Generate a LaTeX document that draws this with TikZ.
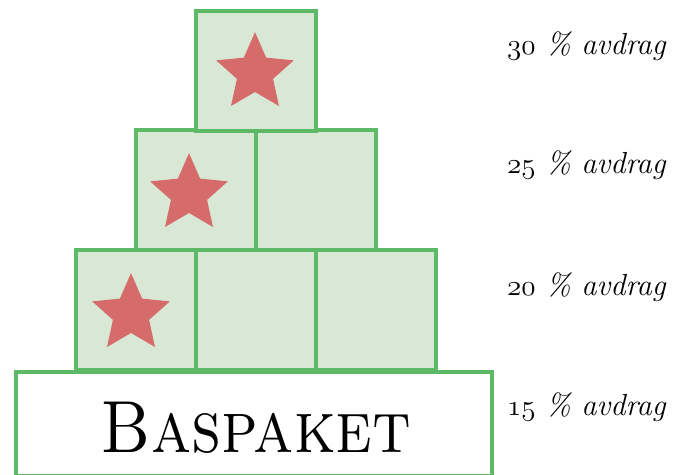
\documentclass[tikz,border=0pt]{standalone}
\usepackage{fontspec}
\usetikzlibrary{shapes.geometric}
\definecolor{rutgron}{RGB}{92,186,102}
\definecolor{rutfyll}{RGB}{216,232,212}
\definecolor{stjarna}{RGB}{213,107,107}
\newcommand\gamla[1]{{\fontencoding{OML}\fontfamily{lmm}\fontseries{m}\fontshape{it}\selectfont #1}}
\tikzset{
  ruta/.style={draw=rutgron, fill=rutfyll, line width=3.4pt, minimum size=36mm, inner sep=0pt},
  stjrn/.style={star, star points=5, star point ratio=2.15, fill=stjarna, minimum size=24.5mm, inner sep=0pt},
  niva/.style={anchor=base west, inner sep=0pt, font=\fontsize{26}{30}\selectfont\itshape}
}
\begin{document}
\begin{tikzpicture}[x=0.3mm, y=-0.3mm]
    % ram
    \useasboundingbox (0,0) rectangle (673,475);
    % baspaketet
    \node[draw=rutgron, fill=white, line width=3.4pt, minimum width=142.8mm, minimum height=31.2mm, inner sep=0pt] (bas) at (254,424) {};
    \node[anchor=base, inner sep=0pt] (bastext) at (256,452) {\scalebox{0.89}[1]{\fontsize{63}{70}\selectfont\scshape Baspaket}};
    % tredje raden
    \node[ruta] (r3a) at (136,310) {};
    \node[ruta] (r3b) at (256,310) {};
    \node[ruta] (r3c) at (376,310) {};
    % andra raden
    \node[ruta] (r2a) at (196,190) {};
    \node[ruta] (r2b) at (316,190) {};
    % toppen
    \node[ruta] (r1) at (256,71) {};
    % stjärnor
    \node[stjrn] (s1) at (255,73) {};
    \node[stjrn] (s2) at (189,194) {};
    \node[stjrn] (s3) at (131,314) {};
    % avdrag
    \node[niva] (a1) at (507,55) {\gamla{30} \% avdrag};
    \node[niva] (a2) at (507,174) {\gamla{25} \% avdrag};
    \node[niva] (a3) at (507,296) {\gamla{20} \% avdrag};
    \node[niva] (a4) at (507,415) {\gamla{15} \% avdrag};
\end{tikzpicture}
\end{document}
